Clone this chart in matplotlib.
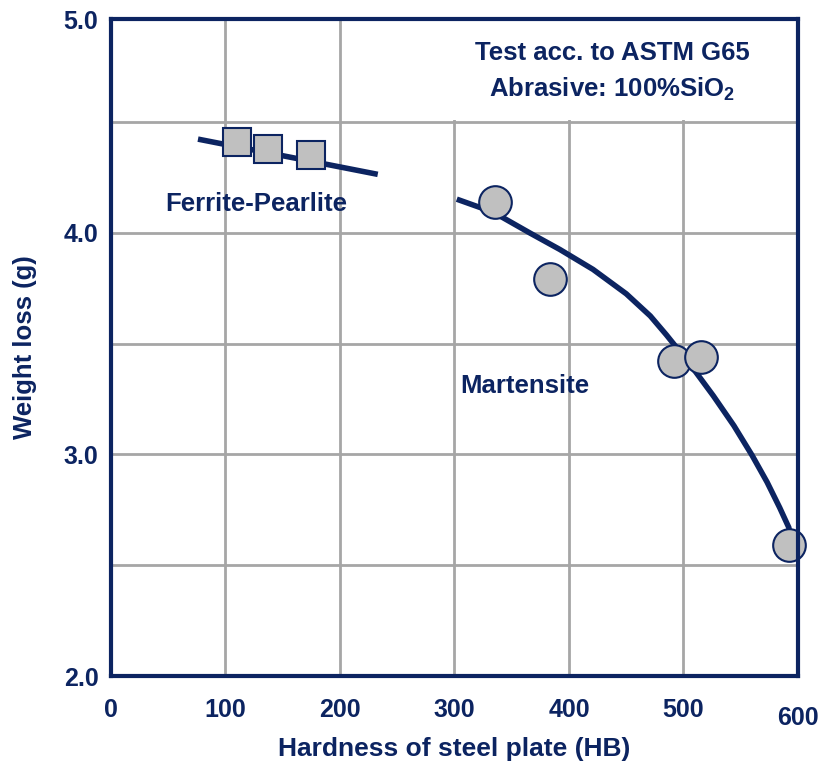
#!/usr/bin/env python3
"""Weight loss vs. hardness of steel plate (ASTM G65 abrasion test)."""

import matplotlib
matplotlib.use("Agg")
import matplotlib.pyplot as plt
from matplotlib.patches import Rectangle

NAVY = "#0c2461"
FILL = "#c0c0c0"
GRID = "#a6a6a6"

# ferrite-pearlite samples (squares) and their trend line
FP_HB = [110, 137, 175]
FP_LOSS = [4.41, 4.38, 4.35]
FP_LINE_HB = [76, 233]
FP_LINE_LOSS = [4.423, 4.264]

# martensite samples (circles) and their trend curve
MART_HB = [335, 383, 492, 515, 592]
MART_LOSS = [4.14, 3.79, 3.42, 3.44, 2.59]
MART_CURVE_HB = [302, 334, 366, 392, 421, 450, 471, 485, 506, 526, 544, 560,
                 573, 584, 592, 594]
MART_CURVE_LOSS = [4.152, 4.093, 3.999, 3.925, 3.835, 3.725, 3.625, 3.540,
                   3.405, 3.265, 3.130, 2.995, 2.875, 2.760, 2.670, 2.60]

X_TICKS = [0, 100, 200, 300, 400, 500, 600]
Y_TICKS = [2.0, 3.0, 4.0]
Y_TOP = 4.965

plt.rcParams["font.family"] = ["Liberation Sans", "DejaVu Sans"]
plt.rcParams["font.weight"] = "bold"
plt.rcParams["mathtext.fontset"] = "custom"
plt.rcParams["mathtext.bf"] = "Liberation Sans:bold"

fig = plt.figure(figsize=(8.22, 7.67), dpi=100)
ax = fig.add_axes([0.135, 0.1186, 0.8358, 0.8566])

ax.set_xlim(0, 600)
ax.set_ylim(2.0, Y_TOP)

# grid every 100 HB / 0.5 g
for x in X_TICKS[1:-1]:
    ax.axvline(x, color=GRID, lw=2, zorder=1)
for y in [2.5, 3.0, 3.5, 4.0, 4.5]:
    ax.axhline(y, color=GRID, lw=2, zorder=1)

# white box behind the test description
ax.add_patch(Rectangle((290, 4.51), 310, Y_TOP - 4.51, facecolor="white",
                       edgecolor="none", zorder=1.5))

ax.plot(FP_LINE_HB, FP_LINE_LOSS, color=NAVY, lw=4, solid_capstyle="butt", zorder=2)
ax.plot(MART_CURVE_HB, MART_CURVE_LOSS, color=NAVY, lw=4, solid_capstyle="butt",
        solid_joinstyle="round", zorder=2)
ax.plot(FP_HB, FP_LOSS, ls="none", marker="s", ms=19.5, mfc=FILL, mec=NAVY,
        mew=1.5, zorder=3)
ax.plot(MART_HB, MART_LOSS, ls="none", marker="o", ms=23.5, mfc=FILL, mec=NAVY,
        mew=1.5, zorder=3, clip_on=False)

ax.set_xticks(X_TICKS)
ax.set_xticklabels([str(v) for v in X_TICKS])
ax.set_yticks(Y_TICKS + [Y_TOP])
ax.set_yticklabels(["2.0", "3.0", "4.0", "5.0"])
ax.tick_params(length=0, labelsize=18, labelcolor=NAVY)
ax.tick_params(axis="x", pad=16)
ax.tick_params(axis="y", pad=9)
ax.get_xticklabels()[-1].set_y(-0.012)

for s in ax.spines.values():
    s.set_color(NAVY)
    s.set_linewidth(3)
    s.set_zorder(4)

ax.set_xlabel("Hardness of steel plate (HB)", fontsize=19, color=NAVY,
              fontweight="bold")
ax.set_ylabel("Weight loss (g)", fontsize=18.5, color=NAVY, fontweight="bold")
ax.xaxis.set_label_coords(0.5, -0.093)
ax.yaxis.set_label_coords(-0.108, 0.5)

ax.text(438, 4.81, "Test acc. to ASTM G65", fontsize=18.5, color=NAVY,
        ha="center", va="center", zorder=5)
ax.text(438, 4.65, r"Abrasive: 100%SiO$_{\mathbf{2}}$", fontsize=18.5, color=NAVY,
        ha="center", va="center", zorder=5)
ax.text(127, 4.13, "Ferrite-Pearlite", fontsize=18.5, color=NAVY,
        ha="center", va="center", zorder=5)
ax.text(361, 3.31, "Martensite", fontsize=18.5, color=NAVY,
        ha="center", va="center", zorder=5)

fig.savefig("out.png", dpi=100)
